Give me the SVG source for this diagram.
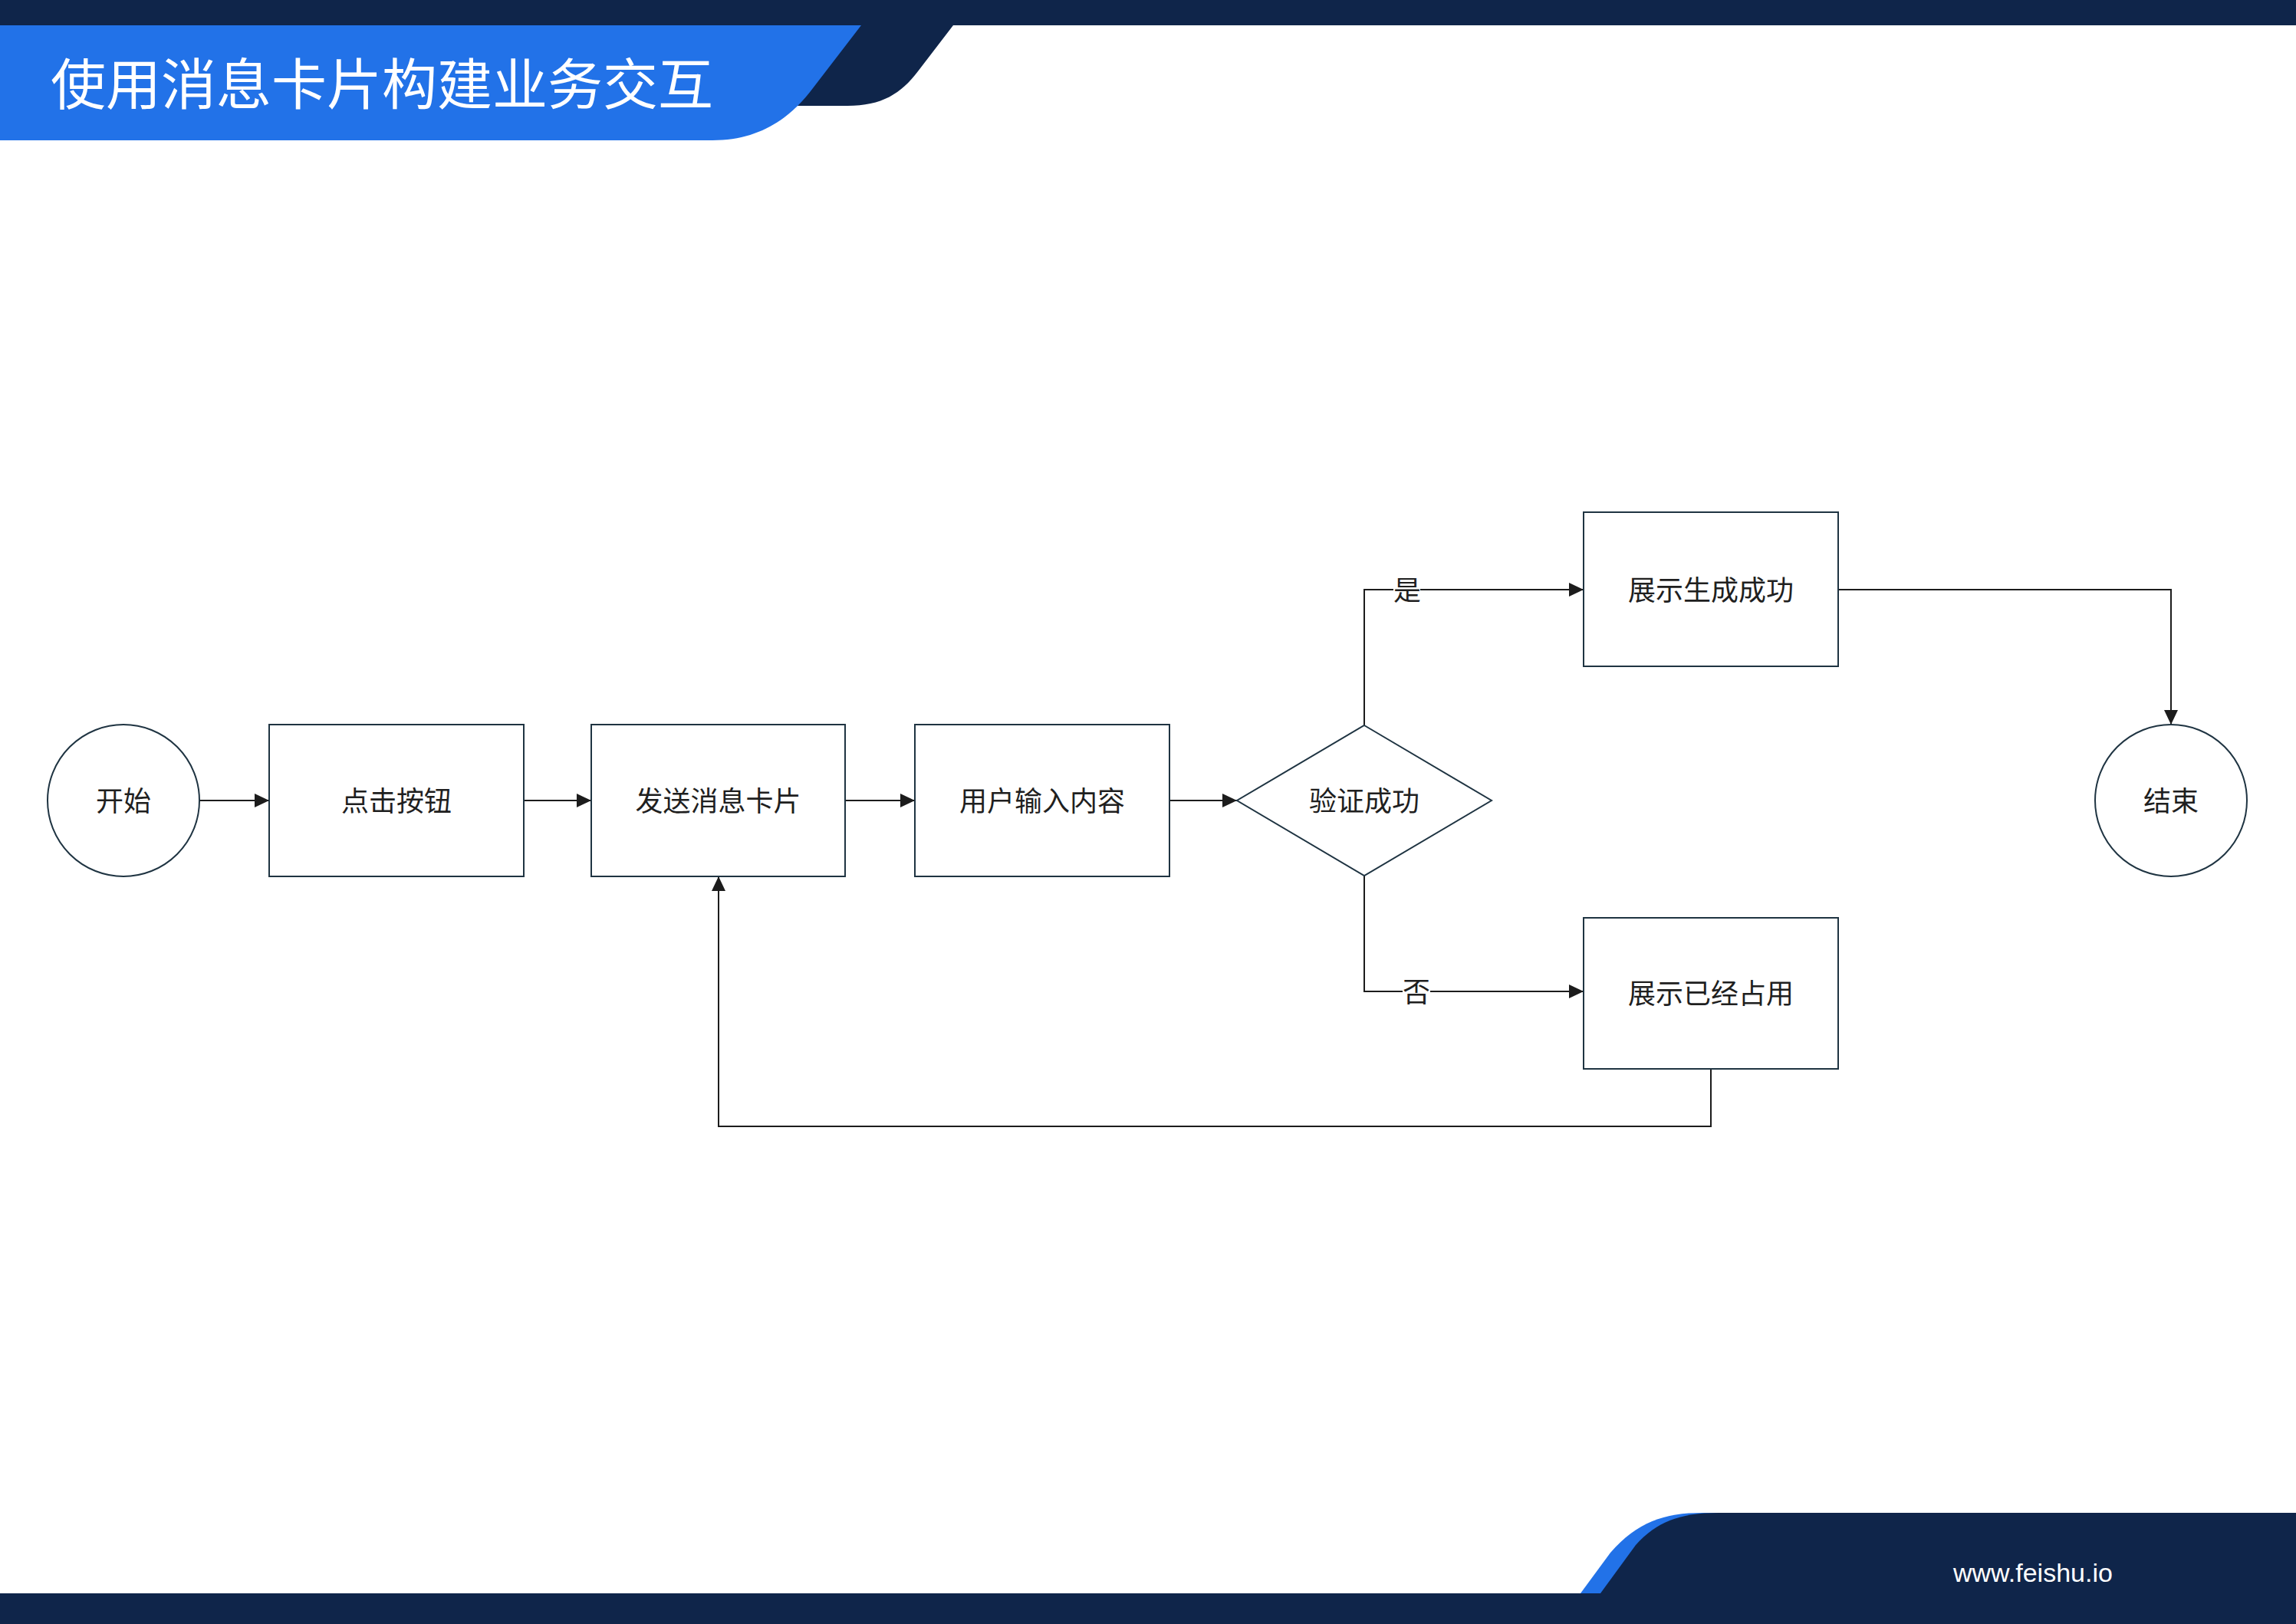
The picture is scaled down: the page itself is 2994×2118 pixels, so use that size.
<svg xmlns="http://www.w3.org/2000/svg" width="2994" height="2118" viewBox="0 0 2994 2118">
<style>
.node{fill:#ffffff;stroke:#1f3442;stroke-width:2}
.lbl{font-family:"Noto Sans CJK SC","Noto Sans",sans-serif;font-size:36px;fill:#1f1f1f;text-anchor:middle}
.edge{fill:none;stroke:#1c1c1c;stroke-width:2}
.elbl{font-family:"Noto Sans CJK SC","Noto Sans",sans-serif;font-size:36px;fill:#1f1f1f;text-anchor:middle}
.dark{fill:#0f254a}
.blue{fill:#2272e8}
</style>
<defs>
<marker id="arr" markerUnits="userSpaceOnUse" markerWidth="19" markerHeight="18" refX="19" refY="9" orient="auto">
<path d="M0,0 L19,9 L0,18 Z" fill="#1c1c1c"/>
</marker>
</defs>
<rect width="2994" height="2118" fill="#ffffff"/>
<g id="header">
<rect class="dark" x="0" y="0" width="2994" height="33"/>
<path class="dark" d="M0,33 L1243,33 L1197,93 C1175,122 1150,138 1105,138 L0,138 Z"/>
<path class="blue" d="M0,33 L1123,33 L1060,115 C1030,155 990,183 929,183 L0,183 Z"/>
<text x="66" y="136" font-family="'Noto Sans CJK SC','Noto Sans',sans-serif" font-size="72" fill="#ffffff">使用消息卡片构建业务交互</text>
</g>
<g id="footer">
<path class="blue" d="M2061,2078 L2100,2025 C2135,1985 2170,1973 2220,1973 L2994,1973 L2994,2078 Z"/>
<path class="dark" d="M2087,2078 L2133,2015 C2160,1985 2190,1973 2241,1973 L2994,1973 L2994,2078 Z"/>
<rect class="dark" x="0" y="2078" width="2994" height="40"/>
<text x="2547" y="2063" font-family="'Liberation Sans',Arial,sans-serif" font-size="34" fill="#ffffff">www.feishu.io</text>
</g>
<g id="connectors">
<path class="edge" d="M260,1044 L351,1044" marker-end="url(#arr)"/>
<path class="edge" d="M683,1044 L771,1044" marker-end="url(#arr)"/>
<path class="edge" d="M1102,1044 L1193,1044" marker-end="url(#arr)"/>
<path class="edge" d="M1525,1044 L1613,1044" marker-end="url(#arr)"/>
<path class="edge" d="M1779,946 L1779,769 L1817,769 M1852,769 L2065,769" marker-end="url(#arr)"/>
<text class="elbl" x="1835" y="783">是</text>
<path class="edge" d="M1779,1142 L1779,1293 L1829,1293 M1865,1293 L2065,1293" marker-end="url(#arr)"/>
<text class="elbl" x="1847" y="1307">否</text>
<path class="edge" d="M2397,769 L2831,769 L2831,945" marker-end="url(#arr)"/>
<path class="edge" d="M2231,1394 L2231,1469 L937,1469 L937,1143" marker-end="url(#arr)"/>
</g>
<g id="n-start">
<circle class="node" cx="161" cy="1044" r="99"/>
<text class="lbl" x="161" y="1058">开始</text>
</g>
<g id="n-click">
<rect class="node" x="351" y="945" width="332" height="198"/>
<text class="lbl" x="517" y="1058">点击按钮</text>
</g>
<g id="n-send">
<rect class="node" x="771" y="945" width="331" height="198"/>
<text class="lbl" x="936.5" y="1058">发送消息卡片</text>
</g>
<g id="n-input">
<rect class="node" x="1193" y="945" width="332" height="198"/>
<text class="lbl" x="1359" y="1058">用户输入内容</text>
</g>
<g id="n-verify">
<polygon class="node" points="1779,946 1945,1044 1779,1142 1613,1044"/>
<text class="lbl" x="1779" y="1058">验证成功</text>
</g>
<g id="n-success">
<rect class="node" x="2065" y="668" width="332" height="201"/>
<text class="lbl" x="2231" y="783">展示生成成功</text>
</g>
<g id="n-occupied">
<rect class="node" x="2065" y="1197" width="332" height="197"/>
<text class="lbl" x="2231" y="1309">展示已经占用</text>
</g>
<g id="n-end">
<circle class="node" cx="2831" cy="1044" r="99"/>
<text class="lbl" x="2831" y="1058">结束</text>
</g>
</svg>
